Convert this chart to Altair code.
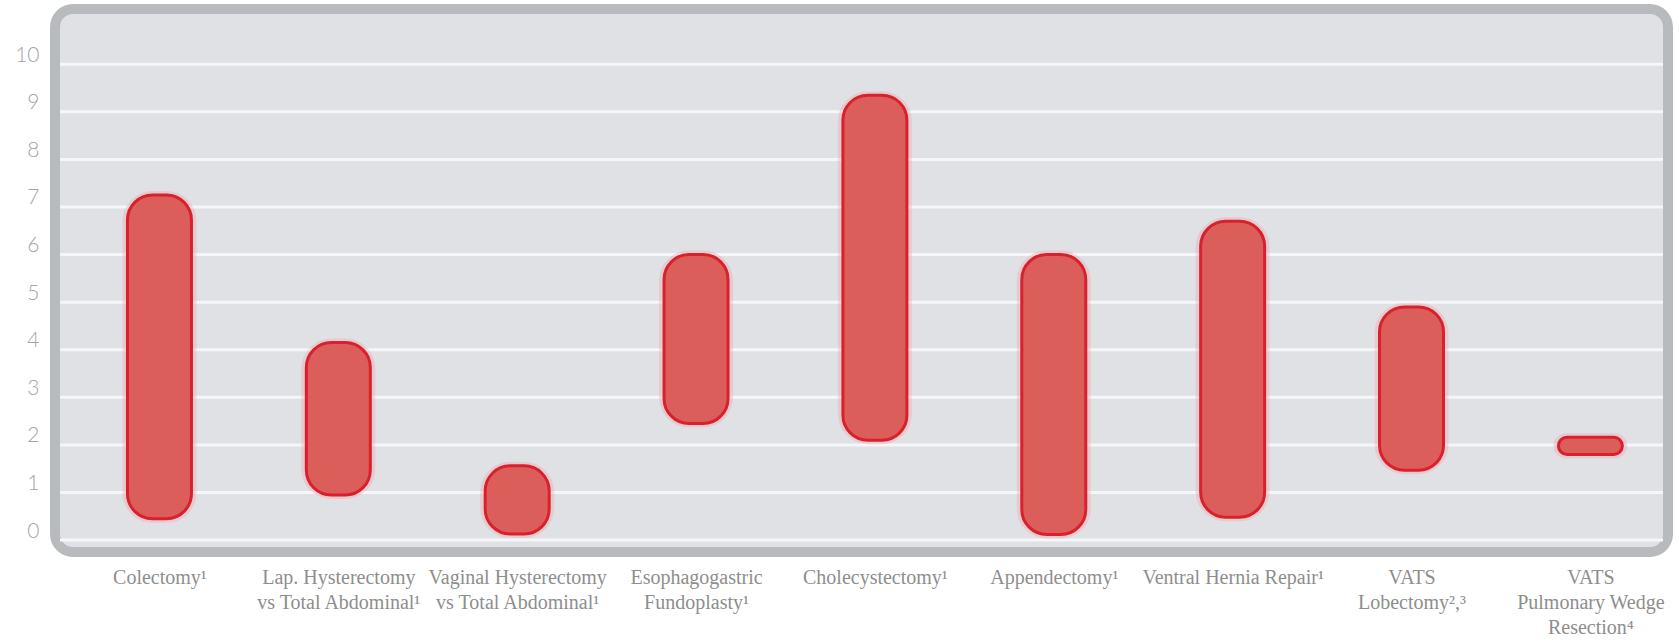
import json
import altair as alt
import pandas as pd

# Procedures, in display order, with the low/high ends of each range (0-10 scale)
procedures = [
    "Colectomy¹",
    "Lap. Hysterectomy|vs Total  Abdominal¹",
    "Vaginal Hysterectomy|vs Total  Abdominal¹",
    "Esophagogastric|Fundoplasty¹",
    "Cholecystectomy¹",
    "Appendectomy¹",
    "Ventral Hernia Repair¹",
    "VATS|Lobectomy²,³",
    "VATS|Pulmonary Wedge|Resection⁴",
]
range_low = [0.45, 0.95, 0.13, 2.45, 2.1, 0.12, 0.48, 1.47, 1.8]
range_high = [7.25, 4.15, 1.56, 6.0, 9.35, 6.0, 6.7, 4.9, 2.16]

y_ticks = [0, 1, 2, 3, 4, 5, 6, 7, 8, 9, 10]

bars = pd.DataFrame({
    "idx": list(range(len(procedures))),
    "procedure": procedures,
    "low": range_low,
    "high": range_high,
})
grid = pd.DataFrame({"v": y_ticks})

W, H = 1613, 543
x_scale = alt.Scale(domain=[-0.556, 8.406], nice=False, zero=False)
y_scale = alt.Scale(domain=[-0.25, 11.16], nice=False, zero=False)

label_expr = "split(" + json.dumps(procedures, ensure_ascii=False) + "[datum.value], '|')"

x_axis = alt.Axis(
    values=list(range(len(procedures))),
    labelExpr=label_expr,
    title=None,
    domain=False,
    ticks=False,
    grid=False,
    labelFont="Liberation Serif",
    labelFontSize=20,
    labelColor="#8e8e8e",
    labelLineHeight=25,
    labelPadding=15,
    labelLimit=400,
    labelOverlap=False,
    labelFlush=False,
    labelBound=False,
    labelAngle=0,
)
y_axis = alt.Axis(
    values=y_ticks,
    title=None,
    domain=False,
    ticks=False,
    grid=False,
    labelFont="Lato",
    labelFontWeight=300,
    labelFontSize=21,
    labelColor="#a4a4a4",
    labelPadding=16,
    labelOffset=-9,
)

# White horizontal guide lines inside the rounded panel
gridlines = alt.Chart(grid).mark_rule(color="#f5f6f7", strokeWidth=3).encode(
    y=alt.Y("v:Q", scale=y_scale, axis=y_axis),
    x=alt.value(5),
    x2=alt.value(W - 5),
)

# Soft pink halo around each range bar
halo = alt.Chart(bars).mark_bar(
    size=66, cornerRadius=26, fill="transparent",
    stroke="#f2a3a8", strokeWidth=8, strokeOpacity=0.35,
).encode(
    x=alt.X("idx:Q", scale=x_scale, axis=x_axis),
    y=alt.Y("low:Q", scale=y_scale),
    y2="high:Q",
)

range_bars = alt.Chart(bars).mark_bar(
    size=64, cornerRadius=25, fill="#dc5e5b",
    stroke="#d9202d", strokeWidth=3,
).encode(
    x=alt.X("idx:Q", scale=x_scale, axis=x_axis),
    y=alt.Y("low:Q", scale=y_scale),
    y2="high:Q",
)

chart = alt.layer(gridlines, halo, range_bars).properties(
    width=W,
    height=H,
    autosize=alt.AutoSizeParams(type="none"),
    padding={"left": 55, "top": 9, "right": 11, "bottom": 92},
    background="white",
).configure_view(
    fill="#dfe1e4",
    stroke="#b8bbbe",
    strokeWidth=10,
    cornerRadius=18,
)

chart.save("out.html", embed_options={"renderer": "svg", "actions": False})
